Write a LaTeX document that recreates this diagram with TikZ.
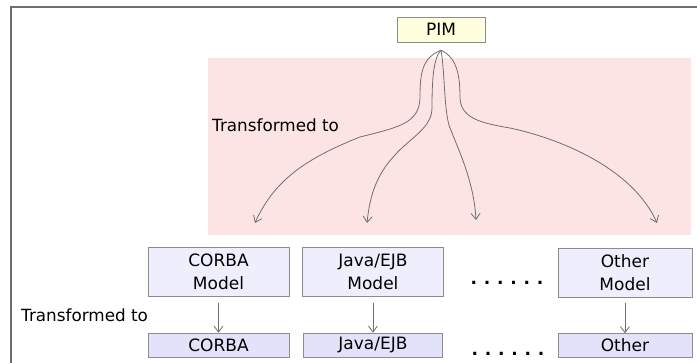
\documentclass[tikz,border=0pt]{standalone}
\usepackage{fontspec}
\setmainfont{DejaVu Sans}
\newfontfamily\dotsfont[LetterSpace=40]{DejaVu Sans Bold}
\usetikzlibrary{arrows.meta,positioning}

\definecolor{pinkbg}{RGB}{253,228,228}
\definecolor{pimfill}{RGB}{255,255,222}
\definecolor{modelfill}{RGB}{238,238,252}
\definecolor{codefill}{RGB}{226,226,250}
\definecolor{linegray}{RGB}{110,110,110}
\definecolor{boxgray}{RGB}{140,140,140}

\begin{document}
\begin{tikzpicture}[x=1pt,y=1pt,>={Straight Barb[length=6pt,width=9pt]},
                    node distance=36pt and 13pt]
  \tikzstyle{every node}=[font=\fontsize{17}{23}\selectfont]
  \tikzstyle{model}=[draw=boxgray,fill=modelfill,minimum width=141pt,
                     minimum height=49pt,align=center,inner sep=0pt]
  \tikzstyle{code}=[draw=boxgray,fill=codefill,minimum width=141pt,
                    minimum height=24pt,inner sep=0pt]
  \tikzstyle{pim}=[draw=boxgray,fill=pimfill,minimum width=88pt,
                   minimum height=25pt,inner sep=0pt]
  \tikzstyle{trans}=[anchor=west,inner sep=0pt,font=\fontsize{16.8}{20}\selectfont]
  \tikzstyle{link}=[->,draw=linegray,line width=0.8pt]

  \useasboundingbox (0,0) rectangle (697,363);
  \fill[pinkbg] (207.5,128) rectangle (691,305);
  \draw[linegray,line width=1.5pt] (11,0) |- (697,356);

  \node[pim] (pim) at (441,333.5) {PIM};
  \node[trans] (trans1) at (212,238) {Transformed to};

  \node[model] (corbamodel) at (218.5,91) {CORBA\\Model};
  \node[model] (javamodel) [right=of corbamodel] {Java/EJB\\Model};
  \node[model,minimum width=134pt] (othermodel) at (625,90.5) {Other\\Model};

  \node[code] (corba) [below=of corbamodel] {CORBA};
  \node[code,minimum width=139pt] (java) [below=of javamodel] {Java/EJB};
  \node[code,minimum width=134pt] (other) [below=of othermodel] {Other};

  \node (dots1) at (507,80) {\dotsfont ......};
  \node (dots2) at (508,9) {\dotsfont ......};
  \node[trans] (trans2) at (21,48) {Transformed to};

  \coordinate (fork) at ([yshift=-8pt]pim.south);
  \coordinate (t1) at (255,140);
  \coordinate (t2) at (367,140);
  \coordinate (t3) at (476,143);
  \coordinate (t4) at (657,140);

  \draw[link] (fork) .. controls (422,305) and (420,290) .. (420,265)
    .. controls (419,240) and (400,236) .. (360,226)
    .. controls (310,206) and (275,185) .. (t1);
  \draw[link] (fork) .. controls (433,305) and (432,280) .. (432,255)
    .. controls (432,235) and (410,225) .. (395,208)
    .. controls (378,190) and (370,170) .. (t2);
  \draw[link] (fork) .. controls (445,290) and (444,250) .. (450,235)
    .. controls (460,210) and (474,180) .. (t3);
  \draw[link] (fork) .. controls (458,305) and (460,285) .. (460,265)
    .. controls (461,245) and (480,240) .. (510,235)
    .. controls (570,222) and (635,190) .. (t4);

  \draw[link,shorten <=6pt] (corbamodel) -- (corba);
  \draw[link,shorten <=6pt] (javamodel) -- (java);
  \draw[link,shorten <=6pt] (othermodel) -- (other);
\end{tikzpicture}
\end{document}
